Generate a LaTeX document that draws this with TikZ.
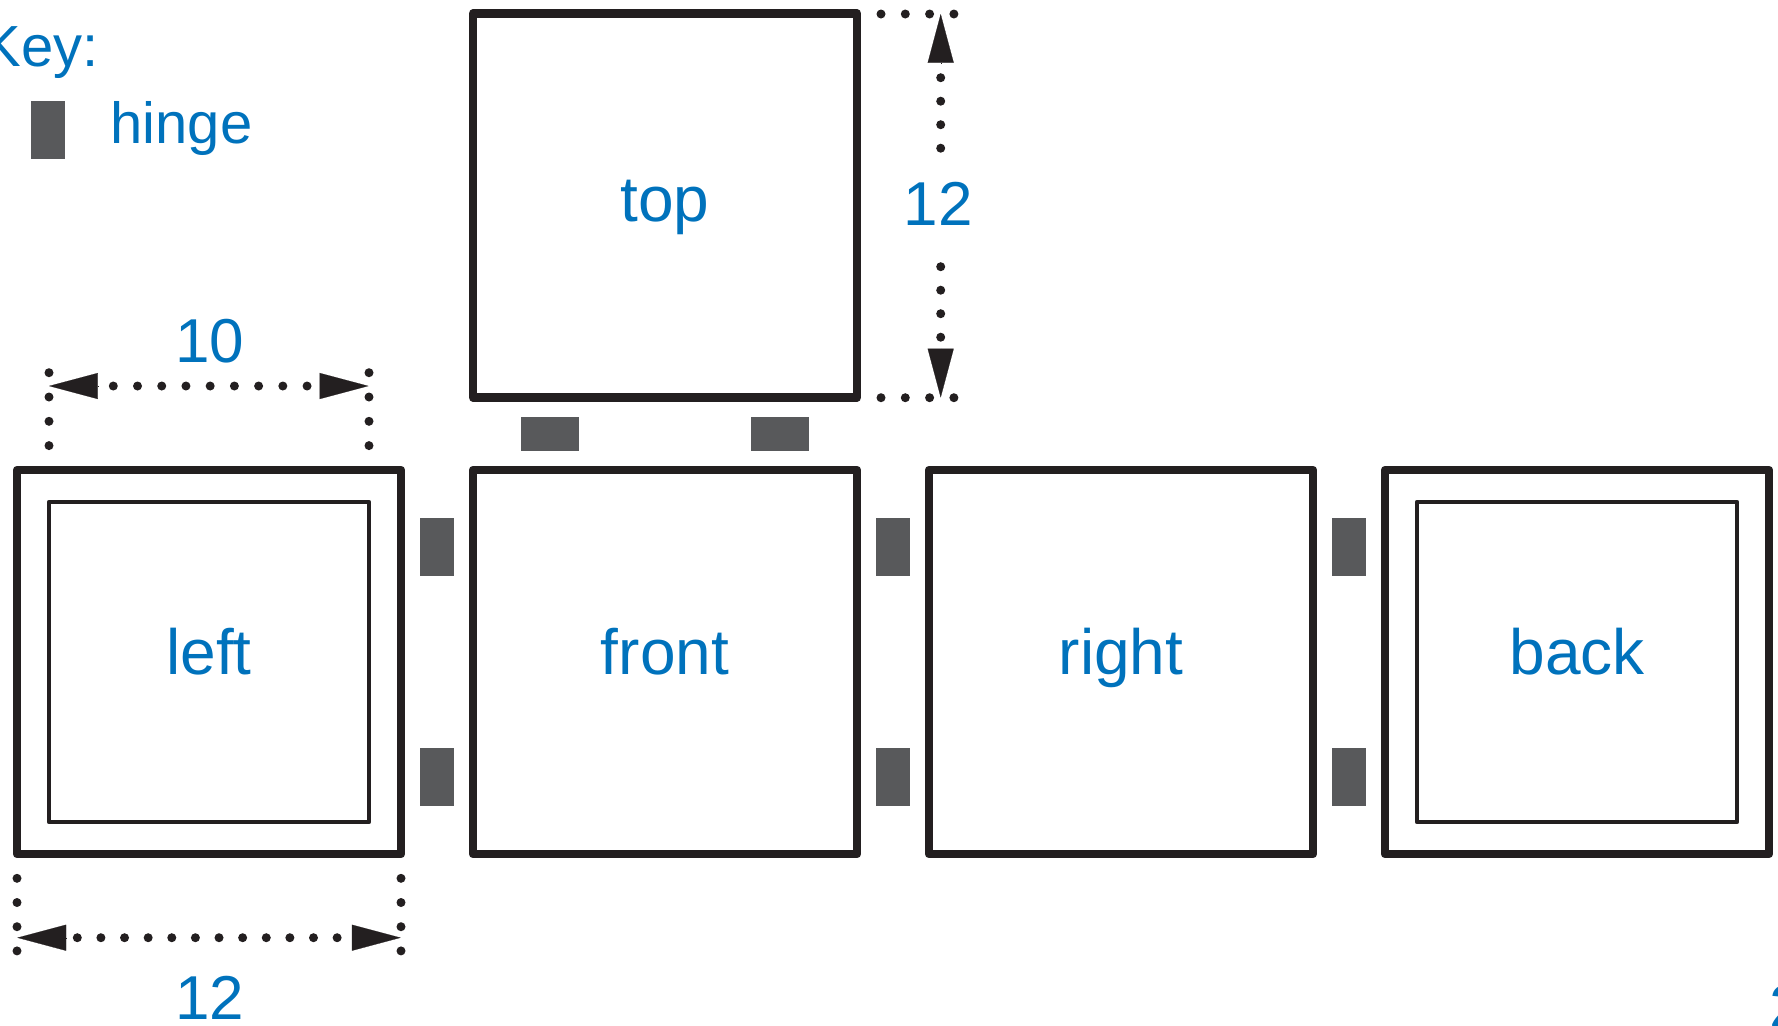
\documentclass[tikz,border=0pt]{standalone}
\usepackage{fontspec}
\setmainfont{Liberation Sans}
\usetikzlibrary{arrows.meta}
\definecolor{ink}{HTML}{231F20}
\definecolor{labelblue}{HTML}{0072BC}
\definecolor{hingegrey}{HTML}{58595B}
\tikzset{
  panel/.style={draw=ink,line width=4.35pt,line join=round,minimum width=192pt,minimum height=192pt,
    inner sep=0pt,text=labelblue,font=\fontsize{32}{32}\selectfont,text height=12pt,text depth=0pt},
  innerpanel/.style={draw=ink,line width=2.4pt,line join=round,minimum width=160pt,minimum height=160pt,inner sep=0pt},
  hingev/.style={fill=hingegrey,minimum width=17pt,minimum height=29pt,inner sep=0pt},
  hingeh/.style={fill=hingegrey,minimum width=29pt,minimum height=17pt,inner sep=0pt},
  dimlabel/.style={text=labelblue,font=\fontsize{31}{31}\selectfont,inner sep=0pt,anchor=base},
  keylabel/.style={text=labelblue,font=\fontsize{29}{29}\selectfont,inner sep=0pt,anchor=base west},
  dotrow/.style={draw=ink,line width=4.5pt,line cap=round,dash pattern=on 0pt off #1},
  dimtip/.style={draw=ink,line width=.1pt,-{Triangle[length=24.4pt,width=13pt,fill=ink]}},
}
\begin{document}
\begin{tikzpicture}[x=.5pt,y=-.5pt]
\useasboundingbox (0,0) rectangle (1778,1025);
\clip (0,0) rectangle (1778,1025);
% panels
\node[panel,text height=16pt] (top)   at (665,205.5) {top};
\node[panel] (left)  at (209,662) {left};
\node[panel] (front) at (665,662) {front};
\node[panel] (right) at (1121,662) {right};
\node[panel] (back)  at (1577,662) {back};
\node[innerpanel] (leftinner) at (209,662) {};
\node[innerpanel] (backinner) at (1577,662) {};
% hinges
\node[hingev] (keyhinge) at (48,130) {};
\node[hingeh] (ht1) at (550,434) {};
\node[hingeh] (ht2) at (780,434) {};
\node[hingev] (h1) at (437,547) {};
\node[hingev] (h2) at (437,777) {};
\node[hingev] (h3) at (893,547) {};
\node[hingev] (h4) at (893,777) {};
\node[hingev] (h5) at (1349,547) {};
\node[hingev] (h6) at (1349,777) {};
% key
\node[keylabel] (keytitle) at (-17.5,66.7) {Key:};
\node[keylabel] (keyname) at (110,143.3) {hinge};
% dimension: 10
\coordinate (aL) at (49,386);
\coordinate (aLb) at (98.3,386);
\coordinate (aR) at (368.5,386);
\coordinate (aRb) at (320,386);
\draw[dimtip] (aLb) -- (aL);
\draw[dimtip] (aRb) -- (aR);
\coordinate (a1) at (113.3,386);
\coordinate (a2) at (307.2,386);
\draw[dotrow=12.11pt] (a1) -- (a2);
\coordinate (a3) at (49,372.7);
\coordinate (a4) at (49,445.7);
\draw[dotrow=12.15pt] (a3) -- (a4);
\coordinate (a5) at (369,372.7);
\coordinate (a6) at (369,445.7);
\draw[dotrow=12.15pt] (a5) -- (a6);
\node[dimlabel] (dimten) at (210,362) {10};
% dimension: 12 horizontal
\coordinate (bL) at (17.3,937.7);
\coordinate (bLb) at (66,937.7);
\coordinate (bR) at (400.7,937.7);
\coordinate (bRb) at (352,937.7);
\draw[dimtip] (bLb) -- (bL);
\draw[dimtip] (bRb) -- (bR);
\coordinate (b1) at (77.3,937.7);
\coordinate (b2) at (337.3,937.7);
\draw[dotrow=11.81pt] (b1) -- (b2);
\coordinate (b3) at (17,878.3);
\coordinate (b4) at (17,951);
\draw[dotrow=12.1pt] (b3) -- (b4);
\coordinate (b5) at (401,878.3);
\coordinate (b6) at (401,951);
\draw[dotrow=12.1pt] (b5) -- (b6);
\node[dimlabel] (dimtwelvea) at (210,1019.7) {12};
% dimension: 12 vertical
\coordinate (cT) at (940.7,14);
\coordinate (cTb) at (940.7,62.7);
\coordinate (cB) at (940.7,397.5);
\coordinate (cBb) at (940.7,348.7);
\draw[dimtip] (cTb) -- (cT);
\draw[dimtip] (cBb) -- (cB);
\coordinate (c1) at (940.7,77.7);
\coordinate (c2) at (940.7,148.3);
\draw[dotrow=11.75pt] (c1) -- (c2);
\coordinate (c3) at (940.7,266.7);
\coordinate (c4) at (940.7,337.3);
\draw[dotrow=11.75pt] (c3) -- (c4);
\coordinate (c5) at (881,14);
\coordinate (c6) at (954,14);
\draw[dotrow=12.15pt] (c5) -- (c6);
\coordinate (c7) at (881,397.7);
\coordinate (c8) at (954,397.7);
\draw[dotrow=12.15pt] (c7) -- (c8);
\node[dimlabel] (dimtwelveb) at (938,225.7) {12};
% fragment at the lower right edge
\node[dimlabel,anchor=base west] (edgetwo) at (1769,1028) {2};
\end{tikzpicture}
\end{document}
